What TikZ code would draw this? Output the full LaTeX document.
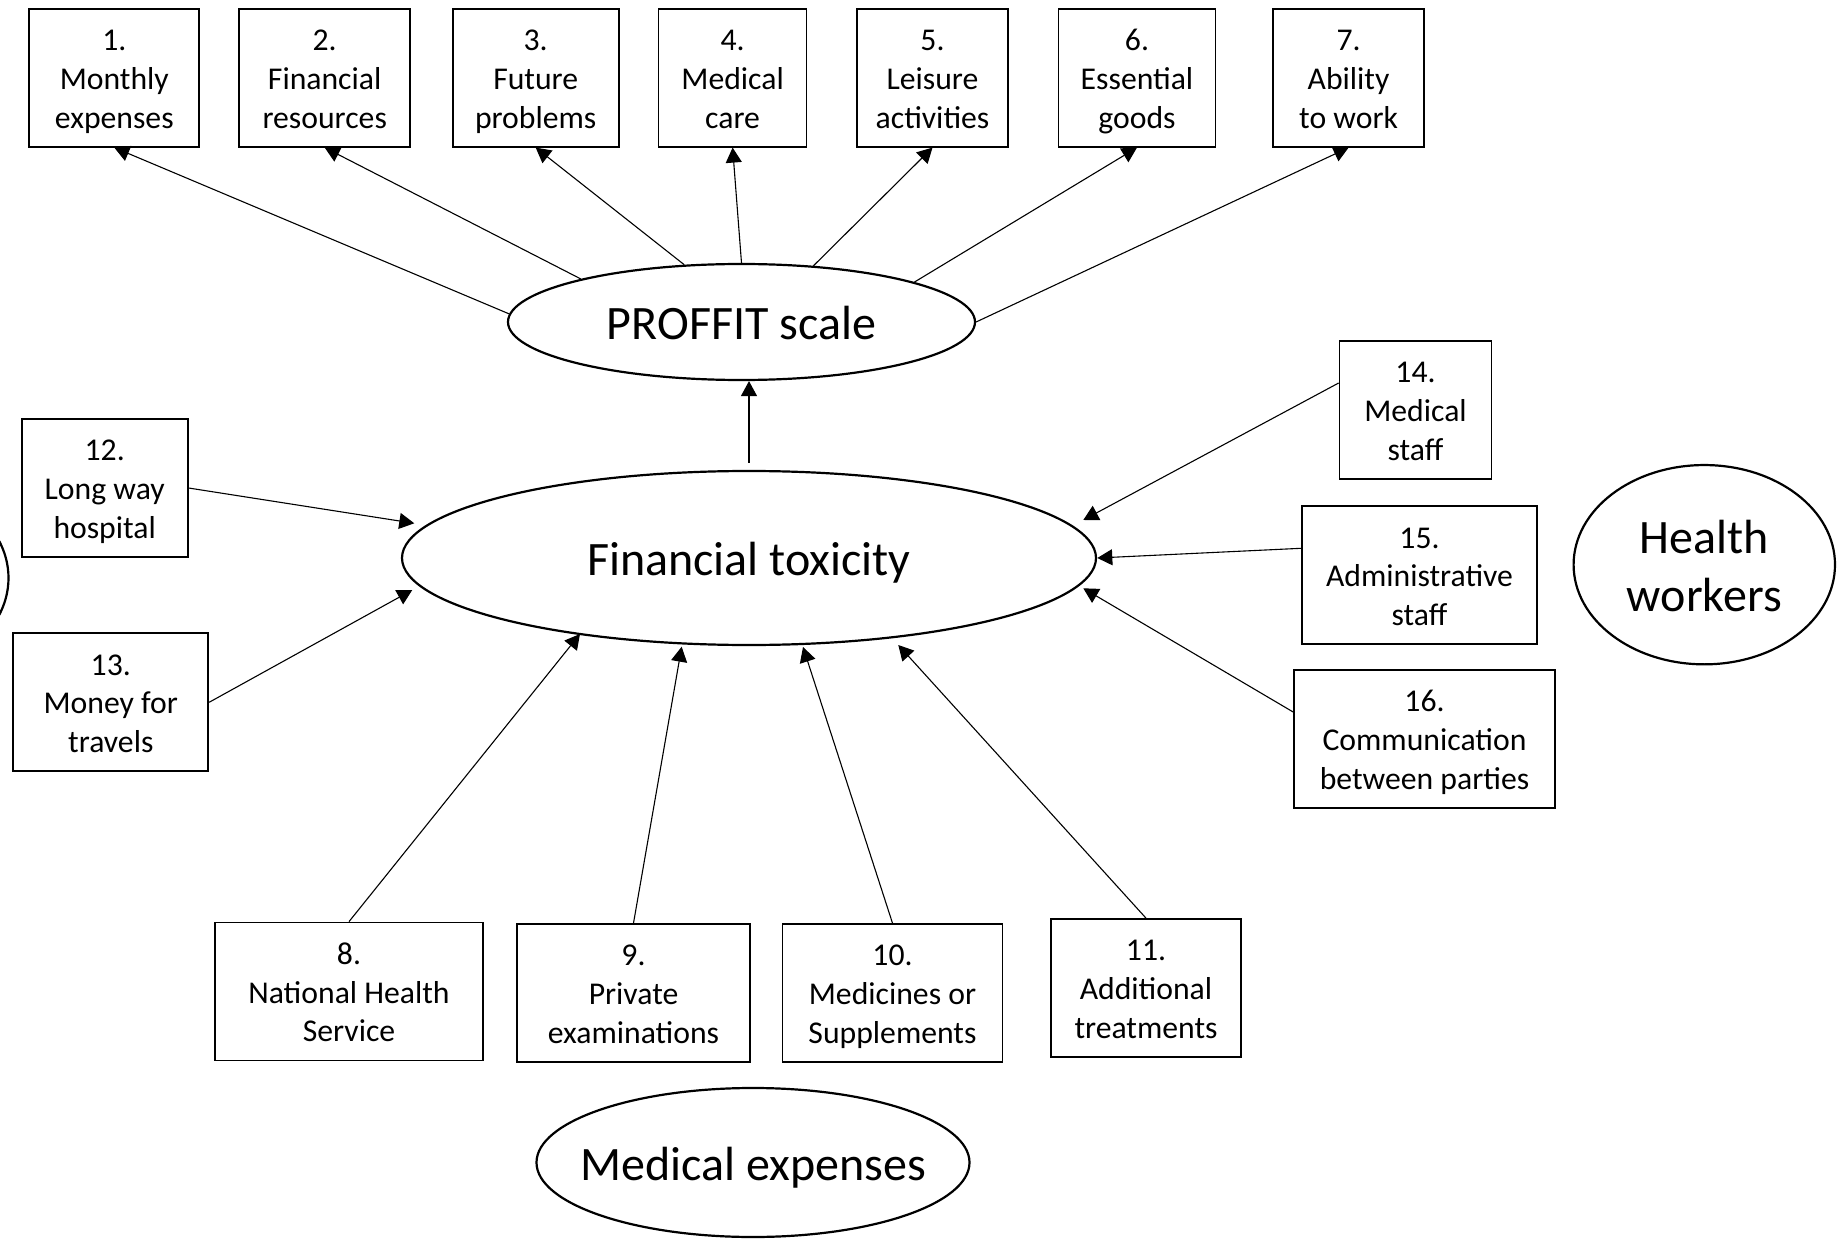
\documentclass[tikz,border=0pt]{standalone}
\usepackage{fontspec}
\setmainfont{Carlito}
\usetikzlibrary{shapes.geometric,arrows.meta,calc}
\newcommand\boxtext[1]{\smash{\raisebox{-6.2pt}{\begin{tabular}{@{}c@{}}#1\end{tabular}}}}
\newcommand\elltext[1]{\smash{\raisebox{-9.3pt}{\begin{tabular}{@{}c@{}}#1\end{tabular}}}}
\tikzset{
  itembox/.style={draw, line width=0.85pt, inner sep=2pt,
    minimum height=68.75pt, font=\fontsize{15.85pt}{19.35pt}\selectfont},
  bigell/.style={draw, ellipse, line width=1.1pt, inner sep=0pt,
    font=\fontsize{24pt}{29.3pt}\selectfont},
  arr/.style={draw, line width=0.55pt, -{Triangle[length=7.5pt,width=8pt]}}
}
\begin{document}
\begin{tikzpicture}[x=0.5pt,y=-0.5pt]
\useasboundingbox (0,0) rectangle (1838,1241);
\clip (0,0) rectangle (1838,1241);
% top boxes
\node[itembox, minimum width=85pt]   (b1) at (114.3,78) {\boxtext{1.\\Monthly\\expenses}};
\node[itembox, minimum width=85.5pt] (b2) at (324.7,78) {\boxtext{2.\\Financial\\resources}};
\node[itembox, minimum width=83pt]   (b3) at (535.7,78) {\boxtext{3.\\Future\\problems}};
\node[itembox, minimum width=74pt]   (b4) at (732.6,78) {\boxtext{4.\\Medical\\care}};
\node[itembox, minimum width=75.5pt] (b5) at (932.5,78) {\boxtext{5.\\Leisure\\activities}};
\node[itembox, minimum width=78.5pt] (b6) at (1137,78) {\boxtext{6.\\Essential\\goods}};
\node[itembox, minimum width=75.5pt] (b7) at (1348.6,78) {\boxtext{7.\\Ability\\to work}};
% bottom boxes
\node[itembox, minimum width=134pt, minimum height=69pt]   (b8)  at (349,991.5) {\boxtext{8.\\National Health\\Service}};
\node[itembox, minimum width=116.5pt, minimum height=69pt] (b9)  at (633.5,993) {\boxtext{9.\\Private\\examinations}};
\node[itembox, minimum width=110pt, minimum height=69pt]   (b10) at (892.5,993) {\boxtext{10.\\Medicines or\\Supplements}};
\node[itembox, minimum width=95pt, minimum height=69pt]    (b11) at (1146,988) {\boxtext{11.\\Additional\\treatments}};
% left boxes
\node[itembox, minimum width=83pt, minimum height=69pt]   (b12) at (104.7,488) {\boxtext{12.\\Long way\\hospital}};
\node[itembox, minimum width=97.5pt, minimum height=69pt] (b13) at (110.8,702.3) {\boxtext{13.\\Money for\\travels}};
% right boxes
\node[itembox, minimum width=76pt, minimum height=69pt]    (b14) at (1415.5,410) {\boxtext{14.\\Medical\\staff}};
\node[itembox, minimum width=117.5pt, minimum height=69pt] (b15) at (1419.5,575.3) {\boxtext{15.\\Administrative\\staff}};
\node[itembox, minimum width=130.5pt, minimum height=69pt] (b16) at (1424.5,739) {\boxtext{16.\\Communication\\between parties}};
% ellipses
\node[bigell, minimum width=233.5pt, minimum height=58pt] (prof) at (741.5,322) {\elltext{PROFFIT scale}};
\node[bigell, minimum width=347pt, minimum height=87pt] (ft) at (749,558) {\elltext{Financial toxicity}};
\node[bigell, minimum width=130.7pt, minimum height=99.65pt] (hw) at (1704.3,564.7) {\elltext{Health\\workers}};
\node[bigell, inner xsep=-12pt, minimum width=216.5pt, minimum height=74.5pt] (me) at (753,1162.5) {\elltext{Medical expenses}};
\node[bigell, minimum width=130.5pt, minimum height=99.5pt] (lft) at (-122,578) {};
% PROFFIT -> items
\draw[arr] (prof.178) -- (b1.south);
\draw[arr] (prof.165.7) -- (b2.south);
\draw[arr] (prof.135) -- (b3.south);
\draw[arr] (prof.90) -- (b4.south);
\draw[arr] (prof.38.7) -- (b5.south);
\draw[arr] (prof.13.8) -- (b6.south);
\draw[arr] (prof.0) -- (b7.south);
% FT -> PROFFIT
\draw[arr] ($(ft.north)+(0,-7)$) -- (ft.north |- prof.south);
% items -> FT
\draw[arr] (b12.east) -- ($(ft.center)+(-334.7,-34.7)$);
\draw[arr] (b13.east) -- ($(ft.center)+(-336.7,32)$);
\draw[arr] (b8.north) -- ($(ft.center)+(-169,76)$);
\draw[arr] (b9.north) -- ($(ft.center)+(-67.3,88.7)$);
\draw[arr] (b10.north) -- ($(ft.center)+(54,89)$);
\draw[arr] (b11.north) -- ($(ft.center)+(149.3,87)$);
\draw[arr] ($(b14.west)+(0,-27)$) -- ($(ft.center)+(334.3,-38)$);
\draw[arr] ($(b15.west)+(0,-27)$) -- ($(ft.center)+(348.3,0)$);
\draw[arr] ($(b16.west)+(0,-27)$) -- ($(ft.center)+(334.3,30.3)$);
\end{tikzpicture}
\end{document}
